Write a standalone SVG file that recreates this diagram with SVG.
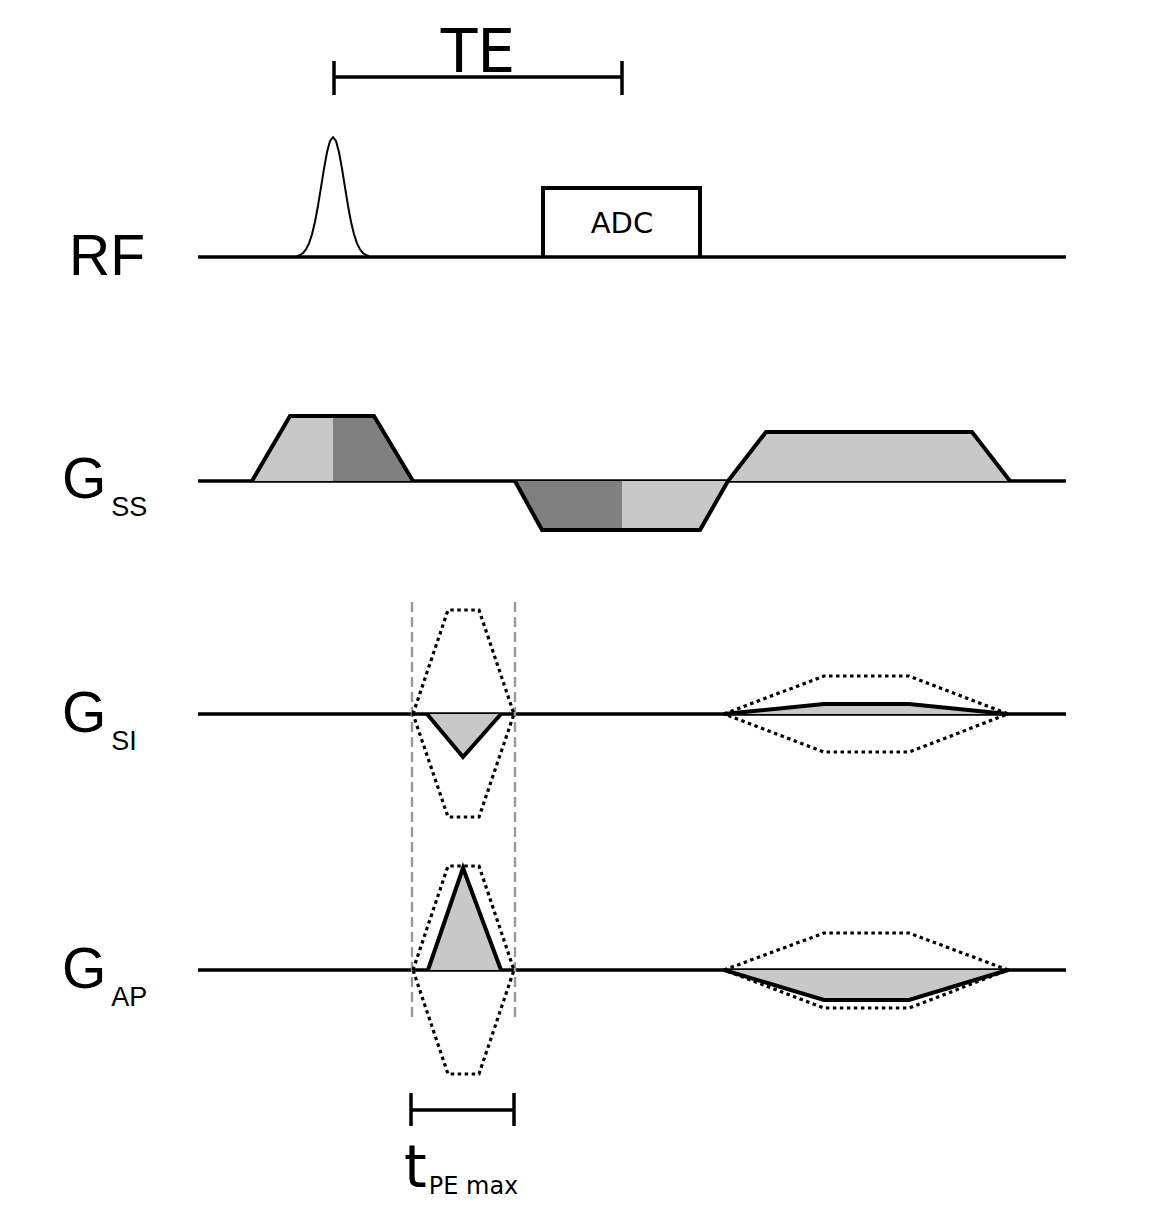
<svg xmlns="http://www.w3.org/2000/svg" width="1165" height="1216" viewBox="0 0 1165 1216">
<style>
.axis{stroke:#000;stroke-width:3.7;fill:none}
.outline{stroke:#000;stroke-width:4;fill:none;stroke-linejoin:miter}
.light{fill:#c8c8c8;stroke:none}
.dark{fill:#808080;stroke:none}
.dot{stroke:#000;stroke-width:3.2;fill:none;stroke-dasharray:3.5 3.5}
.dash{stroke:#999;stroke-width:2.4;fill:none;stroke-dasharray:10 5}
.lbl{font-family:"Liberation Sans",Arial,sans-serif;fill:#000}
.dv{font-family:"DejaVu Sans",Verdana,sans-serif;fill:#000}
</style>
<rect width="1165" height="1216" fill="#fff"/>

<g id="connectors">
  <line class="axis" x1="198" y1="257" x2="1066" y2="257"/>
  <line class="axis" x1="198" y1="481" x2="1066" y2="481"/>
  <line class="axis" x1="198" y1="714" x2="1066" y2="714"/>
  <line class="axis" x1="198" y1="970" x2="1066" y2="970"/>
  <line class="dash" x1="412" y1="602" x2="412" y2="1018"/>
  <line class="dash" x1="515" y1="602" x2="515" y2="1018"/>
</g>

<g id="te-bracket">
  <line x1="334" y1="77" x2="622" y2="77" stroke="#000" stroke-width="3.5"/>
  <line x1="334" y1="61" x2="334" y2="95" stroke="#000" stroke-width="3.5"/>
  <line x1="622" y1="61" x2="622" y2="95" stroke="#000" stroke-width="3.5"/>
  <text class="dv" x="478" y="72" font-size="60" text-anchor="middle">TE</text>
</g>

<g id="rf-label"><text class="lbl" x="69" y="275" font-size="57">RF</text></g>
<g id="gss-label"><text class="lbl" x="62" y="498" font-size="57">G<tspan font-size="27" dx="5" y="516">SS</tspan></text></g>
<g id="gsi-label"><text class="lbl" x="62" y="732" font-size="57">G<tspan font-size="27" dx="5" y="750">SI</tspan></text></g>
<g id="gap-label"><text class="lbl" x="62" y="988" font-size="57">G<tspan font-size="27" dx="5" y="1006">AP</tspan></text></g>

<g id="rf-pulse">
  <polyline fill="none" stroke="#000" stroke-width="2" stroke-linejoin="round" points="297,256.1 300,255 303,253 306,249.4 309,243.4 312,234.3 315,221.7 318,205.7 321,187.4 324,168.6 327,152.3 330,141 333,137 336,141 339,152.3 342,168.6 345,187.4 348,205.7 351,221.7 354,234.3 357,243.4 360,249.4 363,253 366,255 369,256.1"/>
</g>

<g id="adc">
  <polyline class="outline" points="543,257 543,188 700,188 700,257"/>
  <text class="dv" x="622" y="233" font-size="29" text-anchor="middle">ADC</text>
</g>

<g id="gss-pulse1">
  <polygon class="light" points="252,481 290,416 333,416 333,481"/>
  <polygon class="dark" points="333,416 374,416 413,481 333,481"/>
  <polyline class="outline" points="252,481 290,416 374,416 413,481"/>
</g>
<g id="gss-pulse2">
  <polygon class="dark" points="515,481 542,530 622,530 622,481"/>
  <polygon class="light" points="622,481 622,530 700,530 728,481"/>
  <polyline class="outline" points="515,481 542,530 700,530 728,481"/>
</g>
<g id="gss-pulse3">
  <polygon class="light" points="728,481 766,432 972,432 1010,481"/>
  <polyline class="outline" points="728,481 766,432 972,432 1010,481"/>
</g>

<g id="gsi-pe">
  <polygon class="dot" points="413,714 448,610 479,610 514,714 479,817 448,817"/>
  <polygon class="light" points="427,714 463,757 501,714"/>
  <polyline class="outline" points="427,714 463,757 501,714"/>
</g>
<g id="gsi-rewind">
  <polygon class="dot" points="724,714 824,676 909,676 1008,714 909,752 824,752"/>
  <polygon class="light" points="724,714 824,704 909,704 1008,714"/>
  <polyline class="outline" points="724,714 824,704 909,704 1008,714"/>
</g>

<g id="gap-pe">
  <polygon class="dot" points="413,970 448,866 479,866 514,970 479,1074 448,1074"/>
  <polygon class="light" points="428,970 463,868 501,970"/>
  <polyline class="outline" points="428,970 463,868 501,970"/>
</g>
<g id="gap-rewind">
  <polygon class="dot" points="724,970 824,933 909,933 1008,970 909,1008 824,1008"/>
  <polygon class="light" points="724,970 824,1000 909,1000 1008,970"/>
  <polyline class="outline" points="724,970 824,1000 909,1000 1008,970"/>
</g>

<g id="tpe-bracket">
  <line x1="411" y1="1110" x2="514" y2="1110" stroke="#000" stroke-width="3.5"/>
  <line x1="411" y1="1093" x2="411" y2="1126" stroke="#000" stroke-width="3.5"/>
  <line x1="514" y1="1093" x2="514" y2="1126" stroke="#000" stroke-width="3.5"/>
  <text class="dv" x="404" y="1187" font-size="58">t<tspan font-size="24" dx="2" y="1194">PE max</tspan></text>
</g>
</svg>
